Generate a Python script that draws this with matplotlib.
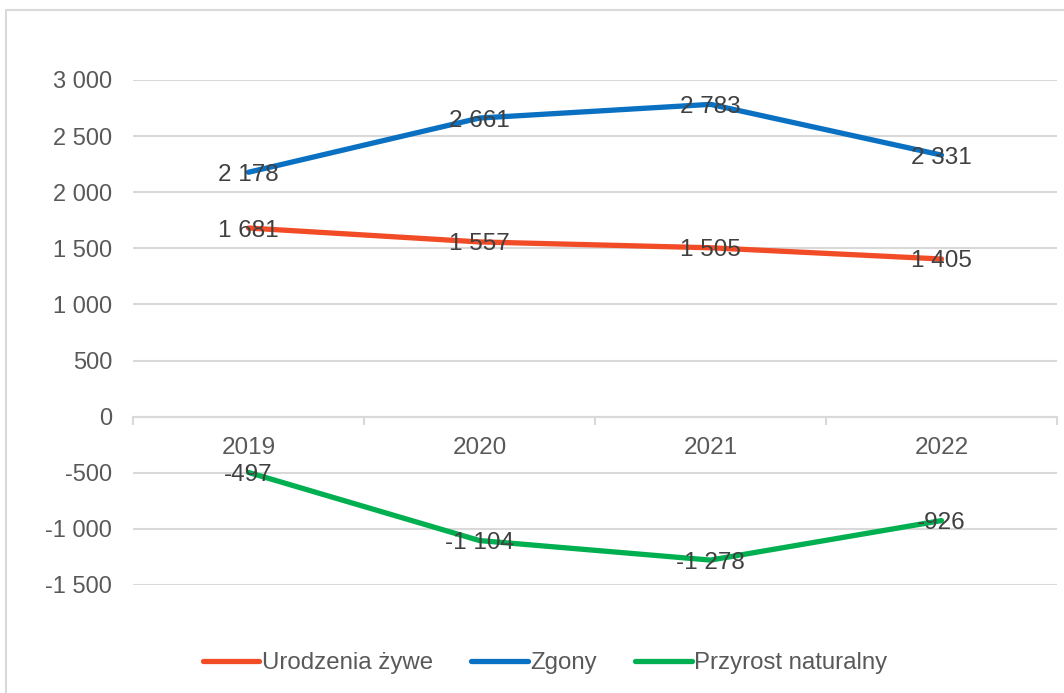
import matplotlib.pyplot as plt
from matplotlib.patches import Rectangle

years = ["2019", "2020", "2021", "2022"]
urodzenia = [1681, 1557, 1505, 1405]
zgony = [2178, 2661, 2783, 2331]
przyrost = [-497, -1104, -1278, -926]

plt.rcParams['font.family'] = ['Liberation Sans', 'DejaVu Sans']


def fmt(v):
    s = f"{abs(v):,}".replace(",", " ")
    return ("-" if v < 0 else "") + s


fig = plt.figure(figsize=(10.64, 6.93), dpi=100)
W, H = 1064, 693
ax = fig.add_axes([133 / W, 1 - 585 / H, (1057 - 133) / W, (585 - 80) / H])

# outer chart border (left and top visible)
fig.patches.append(Rectangle((6 / W, -0.05), 1.2, 1 - 10 / H + 0.05,
                             transform=fig.transFigure, fill=False,
                             edgecolor="#d9d9d9", linewidth=1.5))

x = list(range(len(years)))
series = [
    ("Urodzenia żywe", urodzenia, "#F24C27"),
    ("Zgony", zgony, "#0A70C2"),
    ("Przyrost naturalny", przyrost, "#00B050"),
]
for name, vals, col in series:
    ax.plot(x, vals, color=col, linewidth=3.8, label=name,
            solid_capstyle="round", zorder=3)
    for xi, v in zip(x, vals):
        ax.text(xi, v, fmt(v), ha="center", va="center_baseline", fontsize=17.5,
                color="#404040", zorder=4)

ax.set_xlim(-0.5, 3.5)
ax.set_ylim(-1500, 3000)
ax.set_yticks(range(-1500, 3001, 500))
ax.set_yticklabels([fmt(v) for v in range(-1500, 3001, 500)])
ax.yaxis.grid(True, color="#d9d9d9", linewidth=1.5)
ax.set_axisbelow(True)
ax.tick_params(axis="y", length=0, pad=15, labelsize=17, labelcolor="#595959")

for s in ["top", "right", "left"]:
    ax.spines[s].set_visible(False)
ax.spines["bottom"].set_position(("data", 0))
ax.spines["bottom"].set_color("#d9d9d9")
ax.spines["bottom"].set_linewidth(1.5)
ax.set_xticks(x)
ax.set_xticklabels(years)
ax.set_xticks([-0.5, 0.5, 1.5, 2.5, 3.5], minor=True)
ax.tick_params(axis="x", which="major", length=0, pad=15, labelsize=17.5,
               labelcolor="#595959")
ax.tick_params(axis="x", which="minor", length=6, width=1.5, color="#d9d9d9")

fig.legend(loc="center", bbox_to_anchor=(545 / W, 1 - 663 / H), ncol=3,
           frameon=False, fontsize=17.3, handlelength=2.35, handletextpad=0.1,
           columnspacing=1.6, labelcolor="#595959")

fig.savefig("out.png", dpi=100)
